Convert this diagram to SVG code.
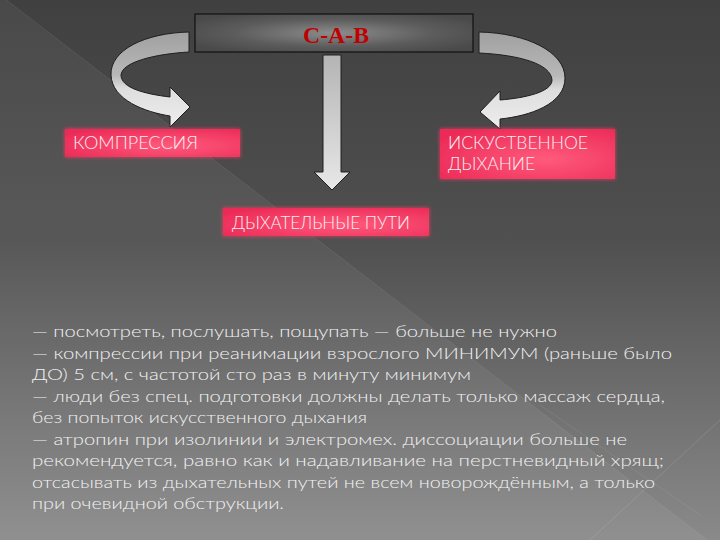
<svg xmlns="http://www.w3.org/2000/svg" width="720" height="540" viewBox="0 0 720 540">
  <defs>
    <linearGradient id="bg" x1="0" y1="0" x2="0" y2="1">
      <stop offset="0" stop-color="#404040"/>
      <stop offset="0.45" stop-color="#505050"/>
      <stop offset="1" stop-color="#8a8a8a"/>
    </linearGradient>
    <radialGradient id="titleFill" cx="0.5" cy="0.5" r="0.6">
      <stop offset="0" stop-color="#8c8c8c"/>
      <stop offset="0.6" stop-color="#5c5c5c"/>
      <stop offset="1" stop-color="#4a4a4a"/>
    </radialGradient>
    <linearGradient id="arrowFill" x1="0" y1="0" x2="0" y2="1">
      <stop offset="0" stop-color="#a0a0a0"/>
      <stop offset="0.45" stop-color="#b8b8b8"/>
      <stop offset="0.6" stop-color="#dedede"/>
      <stop offset="1" stop-color="#eeeeee"/>
    </linearGradient>
    <linearGradient id="downFill" x1="0" y1="0" x2="0" y2="1">
      <stop offset="0" stop-color="#b4b4b4"/>
      <stop offset="1" stop-color="#e8e8e8"/>
    </linearGradient>
    <radialGradient id="pinkFill" cx="0.6" cy="0.6" r="0.7">
      <stop offset="0" stop-color="#ff5a7c"/>
      <stop offset="1" stop-color="#ec2c58"/>
    </radialGradient>
    <filter id="glow" x="-10%" y="-30%" width="120%" height="160%">
      <feDropShadow dx="0" dy="0" stdDeviation="2" flood-color="#ff3a66" flood-opacity="0.8"/>
    </filter>
  </defs>
  <style>
    .arrow { stroke: #1e1e1e; stroke-width: 1; stroke-linejoin: miter; }
    .pink { fill: url(#pinkFill); filter: url(#glow); }
    .label { font-family: "Lato", "Open Sans", "DejaVu Sans", sans-serif; font-weight: 300; font-size: 17px; fill: #fbeef1; }
    .body { font-family: "Lato", "Open Sans", "DejaVu Sans", sans-serif; font-weight: 300; font-size: 15px; fill: #f2f2f2; }
    .title { font-family: "Liberation Serif", "Times New Roman", serif; font-weight: bold; font-size: 24px; fill: #c00000; }
  </style>

  <!-- background -->
  <rect x="0" y="0" width="720" height="540" fill="url(#bg)"/>
  <polygon points="0,-5 720,550 0,540" fill="#ffffff" fill-opacity="0.05"/>
  <line x1="0" y1="-5" x2="720" y2="550" stroke="#ffffff" stroke-opacity="0.08" stroke-width="1"/>
  <line x1="720" y1="420" x2="590" y2="540" stroke="#ffffff" stroke-opacity="0.12" stroke-width="1"/>
  <line x1="540" y1="405" x2="700" y2="515" stroke="#ffffff" stroke-opacity="0.08" stroke-width="1"/>

  <!-- connectors -->
  <g id="connectors">
    <path class="arrow" fill="url(#arrowFill)" d="M189,32 C145,33 110,50 111,75 C112,100 145,112 170,116 L170,127 L190,107 L170,87 L170,97 C145,94 121,88 121,75 C122,62 155,54 189,52 Z"/>
    <path class="arrow" fill="url(#arrowFill)" d="M479,32 C527,33 565,52 565,78 C565,104 530,116 500,119 L500,129 L480,112 L500,91 L500,100 C525,98 552,92 552,80 C551,64 520,55 479,53 Z"/>
    <path class="arrow" fill="url(#downFill)" d="M323,55 L341,55 L341,172 L350,172 L332,190 L314,172 L323,172 Z"/>
  </g>

  <!-- title node -->
  <g id="node-cab">
    <rect x="195" y="14" width="278" height="38" fill="url(#titleFill)" stroke="#111111" stroke-width="1.2"/>
    <text class="title" x="336" y="43" text-anchor="middle" textLength="66" lengthAdjust="spacingAndGlyphs">C-A-B</text>
  </g>

  <g id="node-compression">
    <rect class="pink" x="65" y="129" width="175" height="28"/>
    <text class="label" x="73" y="149" textLength="125" lengthAdjust="spacingAndGlyphs">КОМПРЕССИЯ</text>
  </g>

  <g id="node-breathing">
    <rect class="pink" x="440" y="129" width="175" height="50"/>
    <text class="label" x="448" y="149" textLength="140" lengthAdjust="spacingAndGlyphs">ИСКУСТВЕННОЕ</text>
    <text class="label" x="448" y="170" textLength="87" lengthAdjust="spacingAndGlyphs">ДЫХАНИЕ</text>
  </g>

  <g id="node-airways">
    <rect class="pink" x="223" y="208" width="206" height="28"/>
    <text class="label" x="232" y="229" textLength="178" lengthAdjust="spacingAndGlyphs">ДЫХАТЕЛЬНЫЕ ПУТИ</text>
  </g>

  <!-- body text -->
  <g id="notes">
    <text class="body" x="32" y="337" textLength="525" lengthAdjust="spacingAndGlyphs">— посмотреть, послушать, пощупать — больше не нужно</text>
    <text class="body" x="32" y="358.5" textLength="640" lengthAdjust="spacingAndGlyphs">— компрессии при реанимации взрослого МИНИМУМ (раньше было</text>
    <text class="body" x="32" y="380" textLength="439" lengthAdjust="spacingAndGlyphs">ДО) 5 см, с частотой сто раз в минуту минимум</text>
    <text class="body" x="32" y="401.5" textLength="633" lengthAdjust="spacingAndGlyphs">— люди без спец. подготовки должны делать только массаж сердца,</text>
    <text class="body" x="32" y="423" textLength="335" lengthAdjust="spacingAndGlyphs">без попыток искусственного дыхания</text>
    <text class="body" x="32" y="444.5" textLength="595" lengthAdjust="spacingAndGlyphs">— атропин при изолинии и электромех. диссоциации больше не</text>
    <text class="body" x="32" y="466" textLength="632" lengthAdjust="spacingAndGlyphs">рекомендуется, равно как и надавливание на перстневидный хрящ;</text>
    <text class="body" x="32" y="487.5" textLength="623" lengthAdjust="spacingAndGlyphs">отсасывать из дыхательных путей не всем новорождённым, а только</text>
    <text class="body" x="32" y="509" textLength="252" lengthAdjust="spacingAndGlyphs">при очевидной обструкции.</text>
  </g>
</svg>
